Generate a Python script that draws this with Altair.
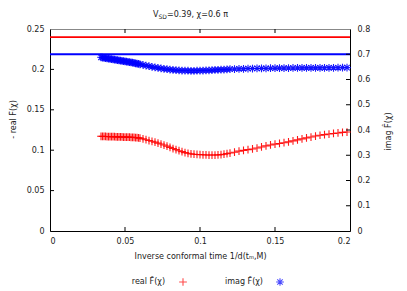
import altair as alt
import pandas as pd

# ---- data ----
x_vals = [0.034, 0.035, 0.036, 0.037, 0.038, 0.039, 0.040, 0.041, 0.042, 0.043,
          0.044, 0.045, 0.046, 0.047, 0.048, 0.049, 0.050, 0.051, 0.052, 0.053,
          0.054, 0.055, 0.056, 0.057, 0.058, 0.059, 0.060,
          0.062, 0.064, 0.066, 0.068, 0.070, 0.072, 0.074, 0.076, 0.078, 0.080,
          0.082, 0.084, 0.086, 0.088, 0.090, 0.092, 0.094, 0.096, 0.098, 0.100,
          0.102, 0.104, 0.106, 0.108, 0.110, 0.112, 0.114, 0.116, 0.118, 0.120,
          0.123, 0.126, 0.129, 0.132, 0.135, 0.138, 0.141, 0.144, 0.147, 0.150,
          0.153, 0.156, 0.159, 0.162, 0.165, 0.168, 0.171, 0.174, 0.177, 0.180,
          0.183, 0.186, 0.189, 0.192, 0.195, 0.198]

real_vals = [0.1172, 0.1171, 0.1170, 0.1170, 0.1169, 0.1169, 0.1168, 0.1168, 0.1167, 0.1167,
             0.1166, 0.1165, 0.1165, 0.1164, 0.1164, 0.1163, 0.1163, 0.1162, 0.1162, 0.1161,
             0.1160, 0.1160, 0.1158, 0.1157, 0.1155, 0.1153, 0.1150,
             0.1140, 0.1130, 0.1120, 0.1110, 0.1100, 0.1088, 0.1076, 0.1064, 0.1050, 0.1035,
             0.1021, 0.1007, 0.0994, 0.0982, 0.0970, 0.0962, 0.0955, 0.0950, 0.0947, 0.0945,
             0.0943, 0.0941, 0.0940, 0.0940, 0.0940, 0.0942, 0.0945, 0.0950, 0.0957, 0.0965,
             0.0975, 0.0988, 0.0998, 0.1007, 0.1015, 0.1027, 0.1040, 0.1053, 0.1065, 0.1075,
             0.1083, 0.1093, 0.1103, 0.1115, 0.1128, 0.1140, 0.1152, 0.1163, 0.1175, 0.1185,
             0.1193, 0.1200, 0.1207, 0.1213, 0.1220, 0.1225]

imag_vals = [0.688, 0.687, 0.686, 0.685, 0.684, 0.683, 0.682, 0.681, 0.680, 0.679,
             0.678, 0.677, 0.676, 0.675, 0.674, 0.673, 0.672, 0.671, 0.670, 0.669,
             0.668, 0.667, 0.666, 0.664, 0.663, 0.662, 0.660,
             0.658, 0.655, 0.653, 0.650, 0.648, 0.646, 0.644, 0.642, 0.641, 0.639,
             0.638, 0.637, 0.636, 0.6355, 0.635, 0.6347, 0.6345, 0.6345, 0.6347, 0.635,
             0.6355, 0.636, 0.6365, 0.637, 0.638, 0.6385, 0.639, 0.6395, 0.640, 0.641,
             0.6415, 0.642, 0.6425, 0.643, 0.6435, 0.6438, 0.644, 0.6443, 0.6446, 0.645,
             0.6452, 0.6454, 0.6455, 0.6456, 0.6458, 0.646, 0.646, 0.6461, 0.6462, 0.6462,
             0.6463, 0.6464, 0.6465, 0.6466, 0.6468, 0.647]

real_level = 0.24      # left axis
imag_level = 0.70      # right axis
x_range = [0.0, 0.2]

x_ticks = [0, 0.05, 0.1, 0.15, 0.2]
left_ticks = [0, 0.05, 0.1, 0.15, 0.2, 0.25]
right_ticks = [0, 0.1, 0.2, 0.3, 0.4, 0.5, 0.6, 0.7, 0.8]

FONT = "DejaVu Sans"
TXT = "#222222"
W, H = 300, 202
MS = 60  # marker size

plus_path = "M-1,0L1,0M0,-1L0,1"
star_path = "M-1,0L1,0M0,-1L0,1M-0.7,-0.7L0.7,0.7M-0.7,0.7L0.7,-0.7"

x_enc = alt.X("x:Q", scale=alt.Scale(domain=x_range, nice=False, zero=False),
              axis=alt.Axis(values=x_ticks, format="~g", ticks=False, labelPadding=6,
                            domainColor="black", title="Inverse conformal time 1/d(tₘ,M)",
                            titlePadding=7))
yl_enc = alt.Y("y:Q", scale=alt.Scale(domain=[0, 0.25], nice=False),
               axis=alt.Axis(orient="left", values=left_ticks, format="~g", ticks=False,
                             labelPadding=6, domainColor="black", title="- real F̂(χ)",
                             titleAngle=270, titleX=-37, titleY=90,
                             titleAlign="center", titleBaseline="middle"))
yr_enc = alt.Y("y:Q", scale=alt.Scale(domain=[0, 0.8], nice=False),
               axis=alt.Axis(orient="right", values=right_ticks, format="~g", ticks=False,
                             labelPadding=7, domainColor="black", title="imag  F̂(χ)",
                             titleAngle=270, titleX=38, titleY=102,
                             titleAlign="center", titleBaseline="middle"))

real_df = pd.DataFrame({"x": x_vals, "y": real_vals})
imag_df = pd.DataFrame({"x": x_vals, "y": imag_vals})

red_line = alt.Chart(pd.DataFrame({"x": x_range, "y": [real_level] * 2})).mark_line(
    color="#ff0000", strokeWidth=1.8).encode(x=x_enc, y=yl_enc)
red_pts = alt.Chart(real_df).mark_point(shape=plus_path, filled=False, color="#ff0000",
                                        strokeWidth=1.1, size=MS, opacity=0.9).encode(x=x_enc, y=yl_enc)

bot_ticks = alt.Chart(pd.DataFrame({"x": x_ticks[1:-1]})).mark_rule(color="black").encode(
    x=x_enc, y=alt.value(H - 4), y2=alt.value(H))
top_ticks = alt.Chart(pd.DataFrame({"x": x_ticks[1:-1]})).mark_rule(color="black").encode(
    x=x_enc, y=alt.value(0), y2=alt.value(4))
l_ticks = alt.Chart(pd.DataFrame({"y": left_ticks[1:-1]})).mark_rule(color="black").encode(
    y=yl_enc, x=alt.value(0), x2=alt.value(4))

# title with subscript
t_df = pd.DataFrame({"k": [0]})
title_v = alt.Chart(t_df).mark_text(text="V", font=FONT, fontSize=8, align="left",
                                    baseline="middle", color=TXT).encode(
    x=alt.value(103), y=alt.value(-14.5))
title_sub = alt.Chart(t_df).mark_text(text="SD", font=FONT, fontSize=6, align="left",
                                      baseline="middle", color=TXT).encode(
    x=alt.value(108.5), y=alt.value(-12.5))
title_rest = alt.Chart(t_df).mark_text(text="=0.39, χ=0.6 π", font=FONT, fontSize=8,
                                       align="left", baseline="middle", color=TXT).encode(
    x=alt.value(117), y=alt.value(-14.5))

# legend (label then symbol, gnuplot style)
LEG_Y = 253
leg_real_t = alt.Chart(t_df).mark_text(text="real F̂(χ)", font=FONT, fontSize=8, align="right",
                                       baseline="middle", color=TXT).encode(
    x=alt.value(115), y=alt.value(LEG_Y))
leg_real_s = alt.Chart(t_df).mark_point(shape=plus_path, filled=False, color="#ff0000",
                                        strokeWidth=1.1, size=MS).encode(
    x=alt.value(133), y=alt.value(LEG_Y))
leg_imag_t = alt.Chart(t_df).mark_text(text="imag F̂(χ)", font=FONT, fontSize=8, align="right",
                                       baseline="middle", color=TXT).encode(
    x=alt.value(213), y=alt.value(LEG_Y))
leg_imag_s = alt.Chart(t_df).mark_point(shape=star_path, filled=False, color="#0000ff",
                                        strokeWidth=1.1, size=MS).encode(
    x=alt.value(230), y=alt.value(LEG_Y))

left = alt.layer(red_line, bot_ticks, top_ticks, l_ticks, red_pts,
                 title_v, title_sub, title_rest,
                 leg_real_t, leg_real_s, leg_imag_t, leg_imag_s)

blue_line = alt.Chart(pd.DataFrame({"x": x_range, "y": [imag_level] * 2})).mark_line(
    color="#0000ff", strokeWidth=1.8).encode(x=x_enc, y=yr_enc)
blue_pts = alt.Chart(imag_df).mark_point(shape=star_path, filled=False, color="#0000ff",
                                         strokeWidth=1.1, size=MS, opacity=0.9).encode(x=x_enc, y=yr_enc)
r_ticks = alt.Chart(pd.DataFrame({"y": right_ticks[1:-1]})).mark_rule(color="black").encode(
    y=yr_enc, x=alt.value(W - 4), x2=alt.value(W))

right = alt.layer(blue_line, r_ticks, blue_pts)

chart = alt.layer(left, right).resolve_scale(y="independent").properties(
    width=W, height=H,
    autosize=alt.AutoSizeParams(type="none"),
    padding={"left": 42, "top": 21, "right": 49, "bottom": 59},
).configure_view(stroke="#888888", strokeWidth=1).configure_axis(
    labelFont=FONT, labelFontSize=8, labelColor=TXT,
    titleFont=FONT, titleFontSize=8, titleColor=TXT, titleFontWeight="normal",
    grid=False, domainWidth=1,
)

chart.save("out.html", embed_options={"renderer": "svg", "actions": False})
